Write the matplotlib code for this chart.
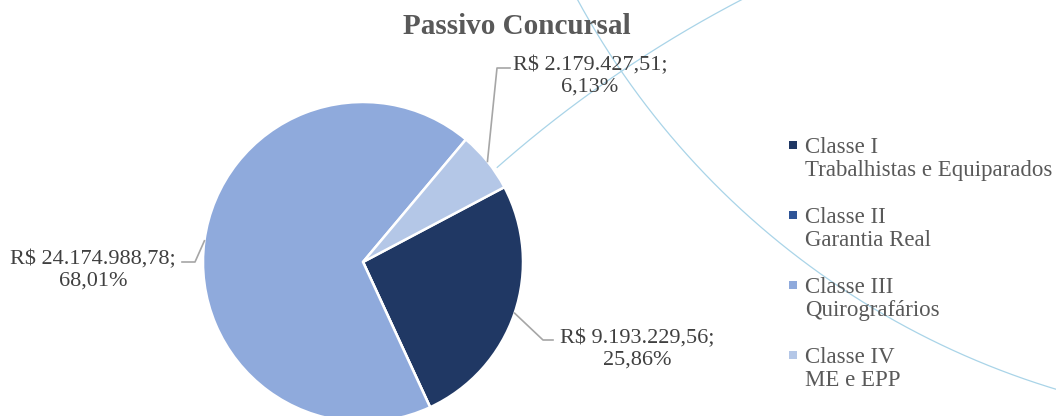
import matplotlib
matplotlib.use('Agg')
import matplotlib.pyplot as plt
import numpy as np

W, H = 1056, 416

# --- data ---
classes = ["Classe I", "Classe II", "Classe III", "Classe IV"]
subtitles = ["Trabalhistas e Equiparados", "Garantia Real", "Quirografários", "ME e EPP"]
values = [9193229.56, 0.0, 24174988.78, 2179427.51]
value_labels = ["R$ 9.193.229,56;", "", "R$ 24.174.988,78;", "R$ 2.179.427,51;"]
pct_labels = ["25,86%", "", "68,01%", "6,13%"]
colors = ["#203864", "#2F5597", "#8FAADC", "#B4C7E7"]

plt.rcParams['font.family'] = ['Liberation Serif', 'DejaVu Serif']


def Y(y):
    # pixel row from the top -> axes y
    return H - y


def arc(ax, c, rad, t1, t2, **kw):
    t = np.deg2rad(np.linspace(t1, t2, 400))
    ax.plot(c[0] + rad * np.cos(t), c[1] + rad * np.sin(t), **kw)


fig = plt.figure(figsize=(W / 100, H / 100), dpi=100)
ax = fig.add_axes([0, 0, 1, 1])

# background decoration arcs
arc_col = "#A9D4E8"
arc(ax, (1291, Y(-388)), 812, 200, 260, color=arc_col, lw=0.9, zorder=0)
arc(ax, (1308, Y(1087)), 1226, 110, 131.4, color=arc_col, lw=0.9, zorder=0)

cx, cy, r = 363, Y(262), 160
wedges, _ = ax.pie(values, colors=colors, startangle=27.9, counterclock=False,
                   center=(cx, cy), radius=r,
                   wedgeprops=dict(edgecolor="white", linewidth=1.8))

ax.set_xlim(0, W)
ax.set_ylim(0, H)
ax.set_aspect('equal')
ax.axis('off')

ax.text(517, Y(26), "Passivo Concursal", ha='center', va='center',
        fontsize=21, fontweight='bold', color="#595959")

# data labels with leader lines: (text centre, elbow point, elbow end)
label_pos = {0: (637, 349), 2: (93, 270), 3: (590, 76)}
elbows = {0: [(543, 340), (553, 340)], 2: [(195, 262), (182, 262)],
          3: [(497, 68), (510, 68)]}
for i, (tx, ty) in label_pos.items():
    w = wedges[i]
    mid = np.deg2rad((w.theta1 + w.theta2) / 2)
    ex, ey = cx + r * np.cos(mid), cy + r * np.sin(mid)
    pts = [(ex, ey)] + [(px, Y(py)) for px, py in elbows[i]]
    ax.plot([p[0] for p in pts], [p[1] for p in pts], color="#A6A6A6", lw=1.2)
    ax.text(tx, Y(ty), value_labels[i] + "\n" + pct_labels[i], ha='center', va='center',
            fontsize=16, color="#404040", linespacing=1.2)

# legend
for i, (c, s) in enumerate(zip(classes, subtitles)):
    y0 = 145 + 70 * i
    ax.scatter([793], [Y(y0)], marker='s', s=36, color=colors[i], linewidths=0)
    ax.text(805, Y(y0 + 14), c + "\n" + s, ha='left', va='center',
            fontsize=16.5, color="#595959", linespacing=1.15)

fig.savefig("out.png", dpi=100)
